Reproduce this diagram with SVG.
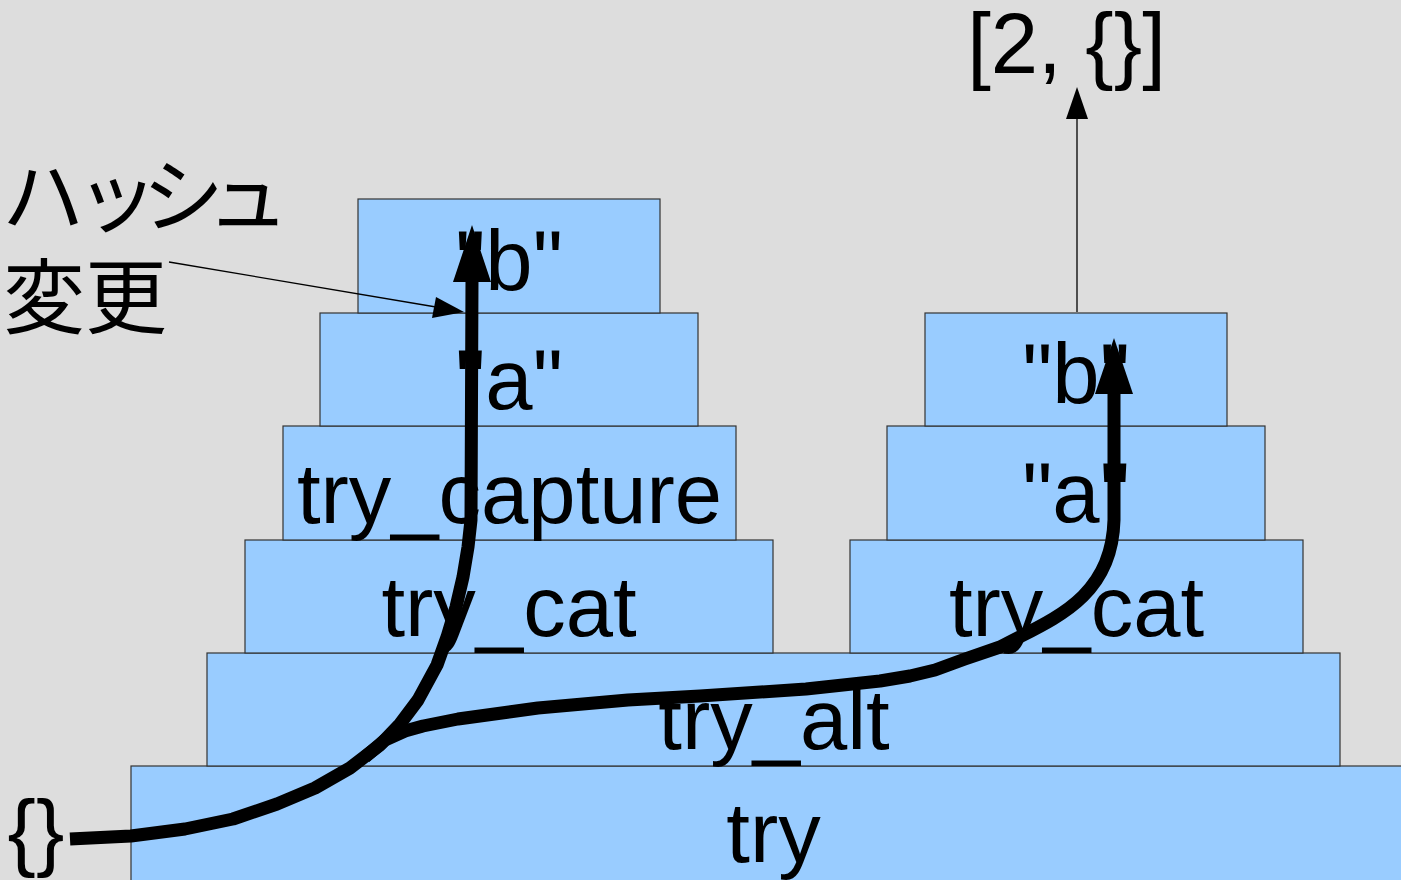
<svg xmlns="http://www.w3.org/2000/svg" width="1401" height="880" viewBox="0 0 1401 880">
<style>
.box{fill:#99ccff;stroke:#333333;stroke-width:1.2}
.lbl{font-family:"Liberation Sans",Arial,sans-serif;font-size:85px;fill:#000;text-anchor:middle}
.jp{font-family:"Noto Sans CJK JP",sans-serif;font-size:82px;fill:#000}
.flow{fill:none;stroke:#000;stroke-width:13;stroke-linejoin:round;stroke-linecap:butt}
.thin{fill:none;stroke:#000;stroke-width:1.3}
</style>
<rect x="0" y="0" width="1401" height="880" fill="#dddddd"/>
<g id="try"><rect class="box" x="131" y="766" width="1290" height="120"/><text class="lbl" x="773.5" y="862">try</text></g>
<g id="try_alt"><rect class="box" x="207" y="653" width="1133" height="113"/><text class="lbl" x="774" y="749">try_alt</text></g>
<g id="try_cat_left"><rect class="box" x="245" y="540" width="528" height="113"/><text class="lbl" x="509" y="636">try_cat</text></g>
<g id="try_capture"><rect class="box" x="283" y="426" width="453" height="114"/><text class="lbl" x="509.5" y="523">try_capture</text></g>
<g id="a_left"><rect class="box" x="320" y="313" width="378" height="113"/><text class="lbl" x="509" y="409">"a"</text></g>
<g id="b_left"><rect class="box" x="358" y="199" width="302" height="114"/><text class="lbl" x="509" y="290">"b"</text></g>
<g id="try_cat_right"><rect class="box" x="850" y="540" width="453" height="113"/><text class="lbl" x="1076.5" y="636">try_cat</text></g>
<g id="a_right"><rect class="box" x="887" y="426" width="378" height="114"/><text class="lbl" x="1076" y="522">"a"</text></g>
<g id="b_right"><rect class="box" x="925" y="313" width="302" height="113"/><text class="lbl" x="1076" y="403">"b"</text></g>
<g id="result"><text class="lbl" x="1066.5" y="73">[2, {}]</text></g>
<g id="input"><text class="lbl" x="36" y="860">{}</text></g>
<g id="note"><text class="jp" x="2 76 142 207" y="226">ハッシュ</text><text class="jp" x="3" y="327">変更</text></g>
<g id="connectors">
<path class="flow" d="M70,839 L131,836 L185,829 L233,819 L277,804 L315,788 L350,768 L380,745 L400,724 L418,700 L437,665 L447,637 L456,607 L463,577 L468,547 L471,520 L472,279"/>
<polygon points="472,225 491,282 453,282" fill="#000"/>
<path class="flow" d="M365,757 L385,740 L405,731 L423,726 L458,719 L538,708 L628,700 L700,696 L806,689 L880,681 L910,676 L935,670 L965,659 L1000,647 C1050,620 1112,600 1114,520 L1114,391"/>
<polygon points="1114,338 1133,394 1095,394" fill="#000"/>
<line class="thin" x1="1077" y1="312" x2="1077" y2="117"/>
<polygon points="1077,87 1088,119 1066,119" fill="#000"/>
<line class="thin" x1="169" y1="262" x2="436" y2="307"/>
<polygon points="464,312 432,318 436,297" fill="#000"/>
</g>
</svg>
